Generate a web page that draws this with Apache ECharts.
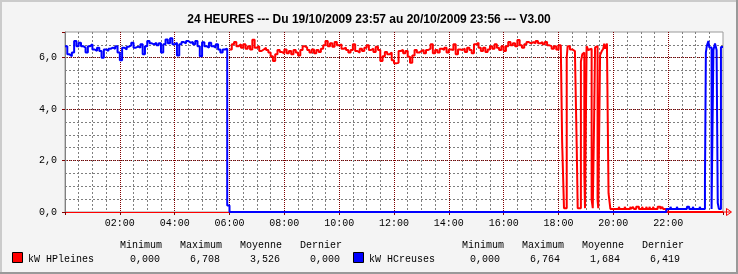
<!DOCTYPE html>
<html><head><meta charset="utf-8">
<script src="https://cdn.jsdelivr.net/npm/echarts@6/dist/echarts.min.js"></script>
<style>html,body{margin:0;padding:0;background:#f4f4f4}#c{width:738px;height:274px}</style>
</head><body><div id="c"></div>
<script>
// ---------------- DATA ----------------
const titleText = '24 HEURES --- Du 19/10/2009 23:57 au 20/10/2009 23:56 --- V3.00';
const seriesNames = ['kW HPleines', 'kW HCreuses'];
const statHeaders = ['Minimum', 'Maximum', 'Moyenne', 'Dernier'];
const hpStats = ['0,000', '6,708', '3,526', '0,000'];
const hcStats = ['0,000', '6,764', '1,684', '6,419'];
const stepMin = 5; // minutes between regular samples

// HCreuses (blue) 00:00 -> 05:55, 5-minute samples
const hcNightStart = 0;
const hcNight = [6.45,6.13,6.06,6.20,6.65,6.45,6.58,6.45,6.39,6.20,6.45,6.52,6.32,6.26,6.39,6.26,6.00,6.32,6.26,6.35,
  6.39,6.35,6.45,6.20,5.90,6.39,6.32,6.43,6.48,6.58,6.39,6.43,6.39,6.52,6.13,6.45,6.65,6.56,6.52,6.58,
  6.48,6.56,6.20,6.52,6.71,6.56,6.76,6.52,6.58,6.09,6.52,6.61,6.56,6.65,6.58,6.61,6.52,6.65,6.45,6.06,
  6.60,6.45,6.39,6.58,6.45,6.39,6.52,6.32,6.20,6.32,6.35,0.25];
const hcOffFrom = 360;
// HCreuses late evening (minutes since 00:00, value)
const hcLateT = [1316,1325,1327,1339,1341,1361,1366,1374,1376,1389,1391,1400.5,1402.5,1404.5,1408,1410,1415,1419,1422.5,1426,1428.5,1431,1435.5,1440];
const hcLateV = [0.12,0.20,0.12,0.20,0.12,0.20,0.12,0.20,0.12,0.20,0.12,1.13,6.20,6.45,6.65,6.40,0.12,6.30,6.55,6.30,0.35,0.12,6.42,6.42];

// HPleines (red) 06:00 -> 18:05, 5-minute samples (no data before 06:00)
const hpDayStart = 360;
const hpDay = [6.32,6.52,6.61,6.45,6.52,6.39,6.52,6.35,6.45,6.32,6.70,6.39,6.45,6.26,6.32,6.39,6.30,6.20,6.06,5.87,
  6.13,6.30,6.22,6.17,6.32,6.17,6.26,6.13,6.30,6.20,6.09,6.30,6.45,6.39,6.30,6.20,6.32,6.17,6.30,6.22,
  6.35,6.48,6.65,6.45,6.56,6.43,6.61,6.48,6.52,6.35,6.39,6.30,6.20,6.30,6.52,6.26,6.20,6.35,6.26,6.39,
  6.48,6.30,6.35,6.22,6.43,6.30,5.87,6.06,6.22,6.13,6.20,5.90,5.78,5.80,6.26,6.30,6.17,6.26,6.04,5.80,
  6.09,6.30,6.20,6.26,6.30,6.17,6.30,6.35,6.52,6.17,6.30,6.20,6.35,6.30,6.39,6.20,6.32,6.30,6.52,6.13,
  6.32,6.30,6.35,6.22,6.39,6.30,6.17,6.52,6.58,6.39,6.26,6.39,6.22,6.32,6.45,6.35,6.52,6.39,6.30,6.45,
  6.26,6.45,6.61,6.48,6.56,6.45,6.69,6.48,6.39,6.52,6.61,6.56,6.61,6.56,6.65,6.56,6.61,6.52,6.61,6.48,
  6.45,6.35,6.45,6.32,6.48,6.52];
// HPleines evening (minutes since 00:00, value)
const hpEveT = [1088,1092,1098,1100,1105,1110,1116,1120,1122,1129,1132,1134,1136.5,1138,1141.5,1145,1149,1152.5,1155,1158,
  1160,1163.5,1165.5,1167,1171,1174.5,1178,1180,1182,1186,1189.5,1193.5,1212,1214,1225,1227,1237,1239,1243,1245,
  1250,1256,1263,1265,1272,1274,1279,1281,1287,1289,1297,1303,1307,1309,1316,1440];
const hpEveV = [2.70,0.15,6.00,6.45,6.32,6.26,6.17,2.40,0.15,5.85,6.13,6.20,1.50,0.15,6.45,6.30,6.35,0.47,0.15,3.66,
  6.40,6.45,0.47,0.15,6.10,6.25,6.35,6.55,6.35,6.55,0.73,0.12,0.20,0.12,0.20,0.12,0.20,0.12,0.20,0.12,
  0.20,0.12,0.20,0.12,0.20,0.12,0.20,0.12,0.20,0.12,0.20,0.12,0.20,0.12,0,0];

// ---------------- BUILD ----------------
const redData = [];
hpDay.forEach((v, k) => redData.push([hpDayStart + k * stepMin, v]));
hpEveT.forEach((t, k) => redData.push([t, hpEveV[k]]));
const blueData = [];
hcNight.forEach((v, k) => blueData.push([hcNightStart + k * stepMin, v]));
blueData.push([hcOffFrom, 0]);
hcLateT.forEach((t, k) => blueData.push([t, hcLateV[k]]));

const MONO = '"Liberation Mono", "DejaVu Sans Mono", monospace';
const pad = n => (n < 10 ? '0' : '') + n;

const G = {l: 65, t: 32, w: 658, h: 180};
const graphics = [
  {type: 'rect', shape: {x: 0, y: 0, width: 738, height: 2}, style: {fill: '#cbcbcb'}, silent: true},
  {type: 'rect', shape: {x: 0, y: 0, width: 2, height: 274}, style: {fill: '#cbcbcb'}, silent: true},
  {type: 'rect', shape: {x: 0, y: 272, width: 738, height: 2}, style: {fill: '#999999'}, silent: true},
  {type: 'rect', shape: {x: 736, y: 0, width: 2, height: 274}, style: {fill: '#999999'}, silent: true},
  {type: 'text', style: {text: titleText, x: 369, y: 19.5, font: 'bold 12px "Liberation Sans", Arial, sans-serif', fill: '#000',
    align: 'center', textAlign: 'center', verticalAlign: 'middle', textVerticalAlign: 'middle'}},
  // x axis arrow
  {type: 'polyline', shape: {points: [[G.l + G.w, 212], [G.l + G.w + 8, 212]]}, style: {stroke: '#ff0000', lineWidth: 1}, z: 10},
  {type: 'polygon', shape: {points: [[726.5, 208.5], [731.5, 212], [726.5, 215.5]]}, style: {stroke: '#ff0000', fill: 'none', lineWidth: 1}, z: 10}
];
function txt(s, x, y, align) {
  return {type: 'text', style: {text: s, x: x, y: y, font: '10px ' + MONO, fill: '#000',
    align: align, textAlign: align, verticalAlign: 'middle', textVerticalAlign: 'middle'}};
}
// legend block
const legendDefs = [
  {name: seriesNames[0], color: '#ff0000', box: 12, hx: [120, 180, 240, 300], vx: [160, 220, 280, 340], stats: hpStats},
  {name: seriesNames[1], color: '#0000ff', box: 353, hx: [462, 522, 582, 642], vx: [500, 560, 620, 680], stats: hcStats}
];
legendDefs.forEach(d => {
  graphics.push({type: 'rect', shape: {x: d.box + 0.5, y: 252.5, width: 10, height: 10}, style: {fill: d.color, stroke: '#000', lineWidth: 1}});
  graphics.push(txt(d.name, d.box + 16, 259.5, 'left'));
  statHeaders.forEach((h, k) => graphics.push(txt(h, d.hx[k], 245.5, 'left')));
  d.stats.forEach((s, k) => graphics.push(txt(s, d.vx[k], 259.5, 'right')));
});

const chart = echarts.init(document.getElementById('c'), null, {renderer: 'canvas'});
chart.setOption({
  animation: false,
  backgroundColor: '#f4f4f4',
  grid: {left: G.l, top: G.t, width: G.w, height: G.h, show: true, backgroundColor: '#ffffff', borderColor: '#9a9a9a', borderWidth: 1},
  xAxis: [{
    type: 'value', min: 0, max: 1440, interval: 120, position: 'bottom',
    axisLine: {show: true, lineStyle: {color: '#ff0000', width: 1}},
    axisTick: {show: true, inside: false, length: 3, lineStyle: {color: '#800000'}},
    axisLabel: {show: true, margin: 6, color: '#000', fontFamily: MONO, fontSize: 10,
      formatter: v => (v === 0 || v === 1440) ? '' : pad(v / 60) + ':00'},
    splitLine: {show: true, showMinLine: false, showMaxLine: false, lineStyle: {color: '#800000', type: [1, 1], width: 1}},
    minorTick: {show: false, splitNumber: 4},
    minorSplitLine: {show: true, lineStyle: {color: '#7f7f7f', type: [2, 2], width: 1}}
  }],
  yAxis: [{
    type: 'value', min: 0, max: 7, interval: 0.5, position: 'left',
    axisLine: {show: false}, axisTick: {show: false}, axisLabel: {show: false},
    splitLine: {show: true, showMinLine: false, showMaxLine: false, lineStyle: {color: '#7f7f7f', type: [2, 2], width: 1}}
  }, {
    type: 'value', min: 0, max: 7, interval: 2, position: 'left',
    axisLine: {show: true, lineStyle: {color: '#808080', width: 1}},
    axisTick: {show: true, length: 3, lineStyle: {color: '#800000'}},
    axisLabel: {show: true, margin: 8, color: '#000', fontFamily: MONO, fontSize: 10,
      formatter: v => v === 7 ? '' : v.toFixed(1).replace('.', ',')},
    splitLine: {show: true, showMinLine: false, showMaxLine: false, lineStyle: {color: '#800000', type: [1, 1], width: 1}}
  }],
  series: [{
    name: seriesNames[0], type: 'line', step: 'end', yAxisIndex: 1, data: redData,
    showSymbol: false, symbol: 'none', lineStyle: {color: '#ff0000', width: 2}, itemStyle: {color: '#ff0000'}
  }, {
    name: seriesNames[1], type: 'line', step: 'end', yAxisIndex: 1, data: blueData,
    showSymbol: false, symbol: 'none', lineStyle: {color: '#0000ff', width: 2}, itemStyle: {color: '#0000ff'}
  }],
  graphic: graphics
});
</script>
</body></html>
